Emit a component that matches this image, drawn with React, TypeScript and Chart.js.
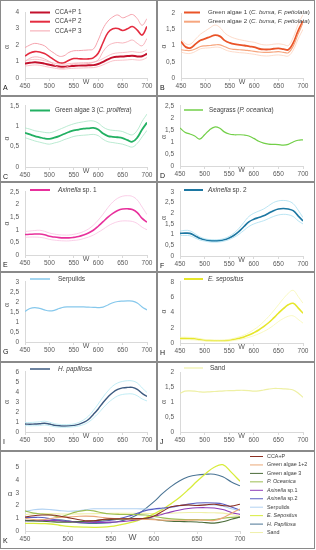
import React, { useEffect, useRef } from "react";
import { Chart, registerables } from "chart.js";
Chart.register(...registerables);

const WL = [450, 460, 470, 480, 490, 500, 510, 520, 530, 540, 550, 560, 570, 580, 590, 600, 610, 620, 630, 640, 650, 660, 670, 680, 690, 700];
const X_TICKS = [450, 500, 550, 600, 650, 700];

// Panel A – CCA+P
const ccaP1 = [0.88, 0.92, 0.95, 0.93, 0.87, 0.8, 0.74, 0.69, 0.68, 0.71, 0.73, 0.75, 0.76, 0.77, 0.78, 0.85, 0.98, 1.13, 1.25, 1.29, 1.3, 1.33, 1.35, 1.31, 1.32, 1.47];
const ccaP1Hi = [1.06, 1.1, 1.13, 1.11, 1.05, 0.97, 0.9, 0.85, 0.84, 0.87, 0.9, 0.92, 0.93, 0.94, 0.96, 1.04, 1.18, 1.34, 1.47, 1.52, 1.54, 1.57, 1.6, 1.56, 1.57, 1.72];
const ccaP1Lo = [0.72, 0.76, 0.79, 0.77, 0.71, 0.65, 0.6, 0.55, 0.54, 0.57, 0.59, 0.6, 0.61, 0.62, 0.63, 0.69, 0.8, 0.93, 1.04, 1.07, 1.08, 1.1, 1.12, 1.09, 1.1, 1.24];
const ccaP2 = [1.33, 1.52, 1.6, 1.58, 1.48, 1.3, 1.1, 0.93, 0.92, 1.08, 1.18, 1.17, 1.15, 1.16, 1.22, 1.5, 2.15, 2.75, 2.98, 3.0, 2.88, 2.98, 3.12, 2.9, 2.6, 3.12];
const ccaP3 = [1.84, 2.0, 2.1, 2.05, 1.95, 1.7, 1.5, 1.32, 1.35, 1.55, 1.65, 1.66, 1.68, 1.7, 1.75, 2.3, 3.0, 3.45, 3.7, 3.82, 3.65, 3.75, 3.85, 3.6, 3.2, 3.6];
const ccaP2Lo = [1.0, 1.2, 1.28, 1.25, 1.15, 1.0, 0.8, 0.62, 0.6, 0.75, 0.85, 0.85, 0.85, 0.88, 0.95, 1.1, 1.6, 1.95, 2.1, 2.15, 2.12, 2.2, 2.3, 2.1, 1.95, 2.4];

// Panel B – Green algae 1 & 2
const greenAlgae1 = [1.12, 0.95, 0.93, 1.05, 1.16, 1.21, 1.27, 1.32, 1.28, 1.15, 1.08, 1.04, 1.02, 1.0, 0.97, 0.95, 0.9, 0.88, 0.88, 0.9, 0.91, 0.89, 0.87, 1.08, 1.45, 1.75];
const greenAlgae2 = [0.87, 0.85, 0.85, 0.9, 0.97, 0.99, 1.0, 1.02, 1.02, 0.96, 0.9, 0.88, 0.87, 0.86, 0.84, 0.82, 0.8, 0.79, 0.79, 0.8, 0.81, 0.79, 0.78, 0.98, 1.35, 1.7];
const greenAlgaeHi = [1.2, 1.05, 1.05, 1.2, 1.35, 1.45, 1.55, 1.63, 1.55, 1.38, 1.28, 1.22, 1.18, 1.15, 1.12, 1.1, 1.05, 1.02, 1.02, 1.04, 1.05, 1.03, 1.0, 1.25, 1.65, 1.95];
const greenAlgaeLo = [0.8, 0.76, 0.76, 0.82, 0.9, 0.92, 0.93, 0.95, 0.94, 0.87, 0.82, 0.8, 0.78, 0.77, 0.75, 0.73, 0.7, 0.68, 0.68, 0.7, 0.71, 0.69, 0.68, 0.86, 1.2, 1.5];

// Panel C – Green algae 3
const greenAlgae3 = [0.84, 0.8, 0.76, 0.73, 0.7, 0.69, 0.72, 0.76, 0.81, 0.86, 0.9, 0.92, 0.94, 0.95, 0.96, 0.92, 0.82, 0.76, 0.74, 0.73, 0.71, 0.66, 0.62, 0.72, 0.92, 1.09];
const greenAlgae3Hi = [0.96, 0.93, 0.89, 0.87, 0.85, 0.84, 0.87, 0.92, 0.97, 1.02, 1.06, 1.09, 1.11, 1.13, 1.13, 1.08, 0.98, 0.92, 0.9, 0.89, 0.87, 0.82, 0.79, 0.9, 1.12, 1.3];
const greenAlgae3Lo = [0.72, 0.68, 0.64, 0.61, 0.58, 0.56, 0.59, 0.62, 0.67, 0.71, 0.75, 0.77, 0.78, 0.79, 0.8, 0.77, 0.68, 0.62, 0.6, 0.58, 0.56, 0.52, 0.49, 0.58, 0.74, 0.9];

// Panel D – Seagrass
const seagrass = [1.58, 1.4, 1.33, 1.25, 1.12, 1.3, 1.5, 1.62, 1.58, 1.42, 1.33, 1.3, 1.3, 1.29, 1.25, 1.15, 1.03, 0.95, 0.91, 0.9, 0.89, 0.87, 0.9, 1.0, 1.07, 1.09];

// Panel E – Axinella sp. 1
const axinella1 = [0.81, 0.82, 0.83, 0.83, 0.8, 0.74, 0.71, 0.69, 0.68, 0.68, 0.7, 0.73, 0.79, 0.87, 0.98, 1.14, 1.32, 1.5, 1.65, 1.76, 1.82, 1.83, 1.8, 1.68, 1.45, 1.3];
const axinella1Hi = [0.93, 0.95, 0.97, 0.98, 0.94, 0.87, 0.83, 0.8, 0.79, 0.79, 0.82, 0.86, 0.93, 1.03, 1.18, 1.38, 1.62, 1.88, 2.1, 2.25, 2.33, 2.35, 2.32, 2.18, 1.9, 1.6];
const axinella1Lo = [0.7, 0.71, 0.71, 0.7, 0.67, 0.62, 0.59, 0.57, 0.56, 0.56, 0.58, 0.6, 0.65, 0.71, 0.79, 0.9, 1.02, 1.15, 1.25, 1.32, 1.35, 1.35, 1.33, 1.25, 1.1, 1.0];

// Panel F – Axinella sp. 2
const axinella2 = [1.06, 1.07, 1.06, 0.95, 0.83, 0.76, 0.72, 0.71, 0.72, 0.76, 0.84, 0.97, 1.15, 1.38, 1.6, 1.72, 1.8, 1.88, 2.0, 2.12, 2.2, 2.22, 2.2, 2.12, 1.88, 1.64];
const axinella2Hi = [1.16, 1.2, 1.18, 1.05, 0.9, 0.81, 0.77, 0.76, 0.77, 0.82, 0.92, 1.08, 1.3, 1.58, 1.85, 2.0, 2.1, 2.2, 2.35, 2.5, 2.58, 2.6, 2.57, 2.45, 2.15, 1.8];
const axinella2Lo = [0.96, 0.96, 0.95, 0.85, 0.75, 0.7, 0.66, 0.65, 0.66, 0.7, 0.77, 0.88, 1.02, 1.2, 1.38, 1.5, 1.58, 1.65, 1.75, 1.85, 1.92, 1.95, 1.93, 1.85, 1.65, 1.5];

// Panel G – Serpulids
const serpulids = [1.52, 1.67, 1.72, 1.68, 1.6, 1.55, 1.58, 1.67, 1.74, 1.75, 1.75, 1.75, 1.75, 1.74, 1.73, 1.72, 1.74, 1.85, 1.96, 2.02, 2.04, 2.05, 2.04, 1.95, 1.75, 1.6];

// Panel H – E. sepositus
const eSepositus = [0.6, 0.6, 0.58, 0.55, 0.45, 0.36, 0.32, 0.3, 0.29, 0.3, 0.36, 0.48, 0.62, 0.8, 1.05, 1.35, 1.7, 2.15, 2.65, 3.25, 3.9, 4.5, 5.0, 5.2, 4.6, 3.9];
const eSepositusHi = [0.75, 0.76, 0.74, 0.7, 0.58, 0.47, 0.42, 0.4, 0.39, 0.41, 0.48, 0.62, 0.8, 1.03, 1.35, 1.75, 2.2, 2.8, 3.45, 4.2, 5.0, 5.8, 6.5, 6.9, 6.1, 5.2];
const eSepositusLo = [0.45, 0.45, 0.43, 0.4, 0.32, 0.26, 0.23, 0.21, 0.2, 0.21, 0.25, 0.34, 0.44, 0.57, 0.75, 0.95, 1.2, 1.5, 1.85, 2.3, 2.8, 3.2, 3.5, 3.55, 3.1, 2.6];

// Panel I – H. papillosa
const hPapillosa = [0.8, 0.78, 0.8, 0.82, 0.88, 0.8, 0.68, 0.62, 0.6, 0.61, 0.66, 0.76, 0.95, 1.25, 1.75, 2.3, 2.95, 3.5, 3.95, 4.25, 4.4, 4.45, 4.45, 4.25, 3.85, 3.55];
const hPapillosaHi = [0.95, 0.95, 0.98, 1.02, 1.08, 0.98, 0.84, 0.76, 0.73, 0.75, 0.81, 0.95, 1.2, 1.58, 2.15, 2.8, 3.5, 4.1, 4.6, 4.9, 5.05, 5.12, 5.1, 4.9, 4.4, 3.95];
const hPapillosaLo = [0.65, 0.62, 0.63, 0.64, 0.7, 0.63, 0.53, 0.48, 0.47, 0.48, 0.52, 0.6, 0.74, 0.98, 1.38, 1.85, 2.4, 2.9, 3.3, 3.6, 3.75, 3.8, 3.8, 3.62, 3.3, 3.1];

// Panel J – Sand
const sand = [1.29, 1.36, 1.37, 1.36, 1.34, 1.33, 1.34, 1.35, 1.36, 1.37, 1.38, 1.38, 1.39, 1.39, 1.38, 1.36, 1.37, 1.4, 1.43, 1.45, 1.45, 1.44, 1.43, 1.4, 1.3, 1.16];

// Panel K – combined means
const ccaPMean = [1.1, 1.2, 1.25, 1.25, 1.18, 1.05, 0.92, 0.81, 0.8, 0.9, 0.95, 0.96, 0.96, 0.97, 1.0, 1.17, 1.55, 1.9, 2.0, 2.05, 2.0, 2.05, 2.1, 2.0, 1.95, 2.1];
const greenAlgae12Mean = [1.0, 0.9, 0.89, 0.98, 1.07, 1.1, 1.14, 1.17, 1.15, 1.06, 0.99, 0.96, 0.95, 0.93, 0.91, 0.89, 0.85, 0.84, 0.84, 0.85, 0.86, 0.84, 0.83, 1.03, 1.4, 1.72];

const K_LABELS = ["CCA+P", "Green algae 1+2", "Green algae 3", "P. Oceanica", "Axinella sp.1", "Axinella sp.2", "Serpulids", "E. Sepositus", "H. Papillosa", "Sand"];

type Seg = [string, boolean];
type Series = { data: number[]; color: string; width: number };
type LegendItem = { segs: Seg[]; color: string; width: number };
type Panel = {
  letter: string;
  box: [number, number, number, number];
  area: [number, number, number, number];
  yMax: number;
  yTickMax: number;
  yStep: number;
  series: Series[];
  legend: LegendItem[];
  leg: { x1: number; x2: number; tx: number; y: number; dy: number; size: number };
  alphaDy?: number;
  big?: boolean;
};

const FONT = '"Liberation Sans", Arial, sans-serif';
const TXT = "#404040";

const band = (c: string, d: number[]): Series => ({ data: d, color: c, width: 0.8 });

const panels: Panel[] = [
  {
    letter: "A", box: [0, 0, 157, 96], area: [25, 12, 147, 78], yMax: 4, yTickMax: 4, yStep: 1,
    series: [
      band("#f7b4bc", ccaP1Hi), band("#f7b4bc", ccaP1Lo), band("#f5a3ad", ccaP2Lo),
      { data: ccaP3, color: "#f5a3ad", width: 1 },
      { data: ccaP2, color: "#e42c40", width: 1.6 },
      { data: ccaP1, color: "#c3102c", width: 2 },
    ],
    legend: [
      { segs: [["CCA+P 1", false]], color: "#c3102c", width: 2 },
      { segs: [["CCA+P 2", false]], color: "#e42c40", width: 2 },
      { segs: [["CCA+P 3", false]], color: "#f5a3ad", width: 1 },
    ],
    leg: { x1: 30, x2: 50, tx: 55, y: 12.5, dy: 9.2, size: 6.3 },
    alphaDy: 2,
  },
  {
    letter: "B", box: [157, 0, 158, 96], area: [181, 13, 303, 78], yMax: 2, yTickMax: 2, yStep: 0.5,
    series: [
      band("#fcd2bc", greenAlgaeHi), band("#fcd2bc", greenAlgaeLo),
      { data: greenAlgae2, color: "#f6a67f", width: 1.2 },
      { data: greenAlgae1, color: "#ea5428", width: 1.8 },
    ],
    legend: [
      { segs: [["Green algae 1 (", false], ["C. bursa, F. petiolata", true], [")", false]], color: "#ea5428", width: 2 },
      { segs: [["Green algae 2 (", false], ["C. bursa, F. petiolata", true], [")", false]], color: "#f6a67f", width: 2 },
    ],
    leg: { x1: 184, x2: 200, tx: 208, y: 12.5, dy: 9.2, size: 6.2 },
    alphaDy: 1,
  },
  {
    letter: "C", box: [0, 96, 157, 86], area: [25, 105, 147, 167], yMax: 1.5, yTickMax: 1.5, yStep: 0.5,
    series: [band("#a9e6c6", greenAlgae3Hi), band("#a9e6c6", greenAlgae3Lo), { data: greenAlgae3, color: "#22b062", width: 1.8 }],
    legend: [{ segs: [["Green algae 3 (", false], ["C. prolifera", true], [")", false]], color: "#22b062", width: 2 }],
    leg: { x1: 30, x2: 50, tx: 55, y: 110.5, dy: 9, size: 6.3 },
    alphaDy: 2,
  },
  {
    letter: "D", box: [157, 96, 158, 86], area: [180, 100, 303, 166], yMax: 2.5, yTickMax: 2.5, yStep: 0.5,
    series: [{ data: seagrass, color: "#72cf48", width: 1.2 }],
    legend: [{ segs: [["Seagrass (", false], ["P. oceanica", true], [")", false]], color: "#72cf48", width: 1.5 }],
    leg: { x1: 184, x2: 203, tx: 209, y: 110, dy: 9, size: 6.3 },
    alphaDy: 1,
  },
  {
    letter: "E", box: [0, 182, 157, 90], area: [25, 190, 147, 255], yMax: 2.5, yTickMax: 2.5, yStep: 0.5,
    series: [band("#f9c3e2", axinella1Hi), band("#f9c3e2", axinella1Lo), { data: axinella1, color: "#e8309c", width: 1.6 }],
    legend: [{ segs: [["Axinella", true], [" sp. 1", false]], color: "#e8309c", width: 2 }],
    leg: { x1: 30, x2: 50, tx: 58, y: 190, dy: 9, size: 6.5 },
    alphaDy: 0,
  },
  {
    letter: "F", box: [157, 182, 158, 90], area: [180, 189, 303, 256], yMax: 3, yTickMax: 3, yStep: 0.5,
    series: [band("#a9def0", axinella2Hi), band("#a9def0", axinella2Lo), { data: axinella2, color: "#1c77a2", width: 1.6 }],
    legend: [{ segs: [["Axinella", true], [" sp. 2", false]], color: "#1c77a2", width: 2 }],
    leg: { x1: 184, x2: 203, tx: 208, y: 190, dy: 9, size: 6.5 },
    alphaDy: -6,
  },
  {
    letter: "G", box: [0, 272, 157, 90], area: [25, 279, 147, 342], yMax: 3, yTickMax: 3, yStep: 0.5,
    series: [{ data: serpulids, color: "#86c8ec", width: 1.2 }],
    legend: [{ segs: [["Serpulids", false]], color: "#86c8ec", width: 1.5 }],
    leg: { x1: 30, x2: 50, tx: 58, y: 279, dy: 9, size: 6.5 },
    alphaDy: -7,
  },
  {
    letter: "H", box: [157, 272, 158, 90], area: [180, 279, 303, 343], yMax: 8, yTickMax: 8, yStep: 2,
    series: [band("#f7f7b4", eSepositusHi), band("#f7f7b4", eSepositusLo), { data: eSepositus, color: "#e6e62a", width: 1.6 }],
    legend: [{ segs: [["E. sepositus", true]], color: "#e6e62a", width: 2 }],
    leg: { x1: 184, x2: 203, tx: 208, y: 279, dy: 9, size: 6.5 },
    alphaDy: -1,
  },
  {
    letter: "I", box: [0, 362, 157, 89], area: [25, 369, 147, 432], yMax: 6, yTickMax: 6, yStep: 1,
    series: [band("#b2e8f2", hPapillosaHi), band("#b2e8f2", hPapillosaLo), { data: hPapillosa, color: "#3c5a80", width: 1.4 }],
    legend: [{ segs: [["H. papillosa", true]], color: "#3c5a80", width: 1.5 }],
    leg: { x1: 30, x2: 50, tx: 58, y: 369, dy: 9, size: 6.5 },
    alphaDy: 0,
  },
  {
    letter: "J", box: [157, 362, 158, 89], area: [180, 372, 303, 432], yMax: 2, yTickMax: 2, yStep: 0.5,
    series: [{ data: sand, color: "#eef0a4", width: 1.2 }],
    legend: [{ segs: [["Sand", false]], color: "#eef0a4", width: 1.2 }],
    leg: { x1: 184, x2: 203, tx: 210, y: 368, dy: 9, size: 6.5 },
    alphaDy: 0,
  },
  {
    letter: "K", box: [0, 451, 315, 98], area: [25, 455, 240, 531], yMax: 5.5, yTickMax: 5, yStep: 1, big: true,
    series: [
      { data: ccaPMean, color: "#8c2f22", width: 1.1 },
      { data: greenAlgae12Mean, color: "#eaa878", width: 1.1 },
      { data: greenAlgae3, color: "#4a6b38", width: 1.1 },
      { data: seagrass, color: "#9cbd52", width: 1.1 },
      { data: axinella1, color: "#8e3cb8", width: 1.1 },
      { data: axinella2, color: "#5a5cc2", width: 1.1 },
      { data: serpulids, color: "#b2d2f2", width: 1.1 },
      { data: eSepositus, color: "#d8ec3c", width: 1.3 },
      { data: hPapillosa, color: "#4a7494", width: 1.1 },
      { data: sand, color: "#f0f0aa", width: 1.1 },
    ],
    legend: [
      { segs: [[K_LABELS[0], false]], color: "#8c2f22", width: 1 },
      { segs: [[K_LABELS[1], false]], color: "#eaa878", width: 1 },
      { segs: [[K_LABELS[2], false]], color: "#4a6b38", width: 1 },
      { segs: [[K_LABELS[3], true]], color: "#9cbd52", width: 1 },
      { segs: [["Axinella", true], [" sp.1", false]], color: "#8e3cb8", width: 1 },
      { segs: [["Axinella", true], [" sp.2", false]], color: "#5a5cc2", width: 1 },
      { segs: [[K_LABELS[6], false]], color: "#b2d2f2", width: 1 },
      { segs: [[K_LABELS[7], true]], color: "#d8ec3c", width: 1 },
      { segs: [[K_LABELS[8], true]], color: "#4a7494", width: 1 },
      { segs: [[K_LABELS[9], false]], color: "#f0f0aa", width: 1 },
    ],
    leg: { x1: 250, x2: 263, tx: 267, y: 456.5, dy: 8.45, size: 5.4 },
  },
];

function makeDecor(p: Panel) {
  return {
    id: "decor" + p.letter,
    afterDraw(chart: any) {
      const ctx = chart.ctx as CanvasRenderingContext2D;
      const [bx, by, bw, bh] = p.box;
      const ca = chart.chartArea;
      ctx.save();
      p.legend.forEach((it, i) => {
        const y = p.leg.y + i * p.leg.dy - by;
        ctx.strokeStyle = it.color;
        ctx.lineWidth = it.width;
        ctx.beginPath();
        ctx.moveTo(p.leg.x1 - bx, y);
        ctx.lineTo(p.leg.x2 - bx, y);
        ctx.stroke();
        let x = p.leg.tx - bx;
        ctx.fillStyle = TXT;
        ctx.textBaseline = "middle";
        ctx.textAlign = "left";
        it.segs.forEach(([t, ital]) => {
          ctx.font = `${ital ? "italic " : ""}${p.leg.size}px ${FONT}`;
          ctx.fillText(t, x, y);
          x += ctx.measureText(t).width;
        });
      });
      ctx.fillStyle = "#595959";
      ctx.textAlign = "center";
      ctx.textBaseline = "middle";
      ctx.font = `${p.big ? 8.5 : 7}px ${FONT}`;
      const cx = (ca.left + ca.right) / 2;
      ctx.fillText("W", cx, p.big ? ca.bottom + 7 : ca.bottom + 4);
      const cy = (ca.top + ca.bottom) / 2 + (p.alphaDy || 0);
      if (p.big) {
        ctx.font = `8px ${FONT}`;
        ctx.fillText("α", 10, cy - 2);
      } else {
        ctx.translate(7, cy);
        ctx.rotate(-Math.PI / 2);
        ctx.font = `7px ${FONT}`;
        ctx.fillText("α", 0, 0);
        ctx.setTransform(1, 0, 0, 1, 0, 0);
      }
      ctx.fillStyle = "#111";
      ctx.font = `7px ${FONT}`;
      ctx.textAlign = "left";
      ctx.fillText(p.letter, 3, ca.bottom + 10);
      ctx.strokeStyle = "#8a8a8a";
      ctx.lineWidth = 1;
      ctx.strokeRect(0.5, 0.5, bw - 1, bh - 1);
      ctx.restore();
    },
  };
}

function PanelChart({ p }: { p: Panel }) {
  const ref = useRef<HTMLCanvasElement>(null);
  useEffect(() => {
    const [bx, by, bw, bh] = p.box;
    const [al, at, ar, ab] = p.area;
    const L = al - bx;
    const T = at - by;
    const R = bx + bw - ar;
    const B = by + bh - ab;
    const tickFont = { family: FONT, size: 6.5 };
    const chart = new Chart(ref.current!, {
      type: "line",
      data: {
        datasets: p.series.map((s) => ({
          data: s.data.map((v, i) => ({ x: WL[i], y: v })),
          borderColor: s.color,
          borderWidth: s.width,
          pointRadius: 0,
          tension: 0.4,
          fill: false,
        })),
      },
      options: {
        animation: false,
        responsive: false,
        devicePixelRatio: 1,
        events: [],
        layout: { padding: { left: 0, top: T, right: R, bottom: 0 } },
        plugins: { legend: { display: false }, tooltip: { enabled: false } },
        scales: {
          x: {
            type: "linear",
            min: 450,
            max: 700,
            afterBuildTicks: (s: any) => {
              s.ticks = X_TICKS.map((v) => ({ value: v }));
            },
            ticks: { color: "#595959", font: tickFont, padding: 1.5, maxRotation: 0, autoSkip: false },
            grid: { display: true, drawOnChartArea: false, tickLength: 3, color: "#d9d9d9" },
            border: { display: true, color: "#d9d9d9" },
            afterFit: (s: any) => {
              s.height = B;
            },
          },
          y: {
            type: "linear",
            min: 0,
            max: p.yMax,
            ticks: {
              autoSkip: false,
              color: "#595959",
              font: tickFont,
              padding: 6,
              callback: (v: any) => String(Math.round(v * 10) / 10).replace(".", ","),
            },
            afterBuildTicks: (s: any) => {
              const t: { value: number }[] = [];
              for (let v = 0; v <= p.yTickMax + 1e-9; v += p.yStep) t.push({ value: Math.round(v * 100) / 100 });
              s.ticks = t;
            },
            grid: { display: false, drawTicks: false },
            border: { display: true, color: "#d9d9d9" },
            afterFit: (s: any) => {
              s.width = L;
            },
          },
        },
      } as any,
      plugins: [makeDecor(p)],
    });
    return () => chart.destroy();
  }, [p]);
  const [bx, by, bw, bh] = p.box;
  return (
    <canvas
      ref={ref}
      width={bw}
      height={bh}
      style={{ position: "absolute", left: bx, top: by, width: bw, height: bh }}
    />
  );
}

export default function App() {
  return (
    <div style={{ position: "fixed", left: 0, top: 0, width: 316, height: 550, background: "#fff" }}>
      {panels.map((p) => (
        <PanelChart key={p.letter} p={p} />
      ))}
    </div>
  );
}
